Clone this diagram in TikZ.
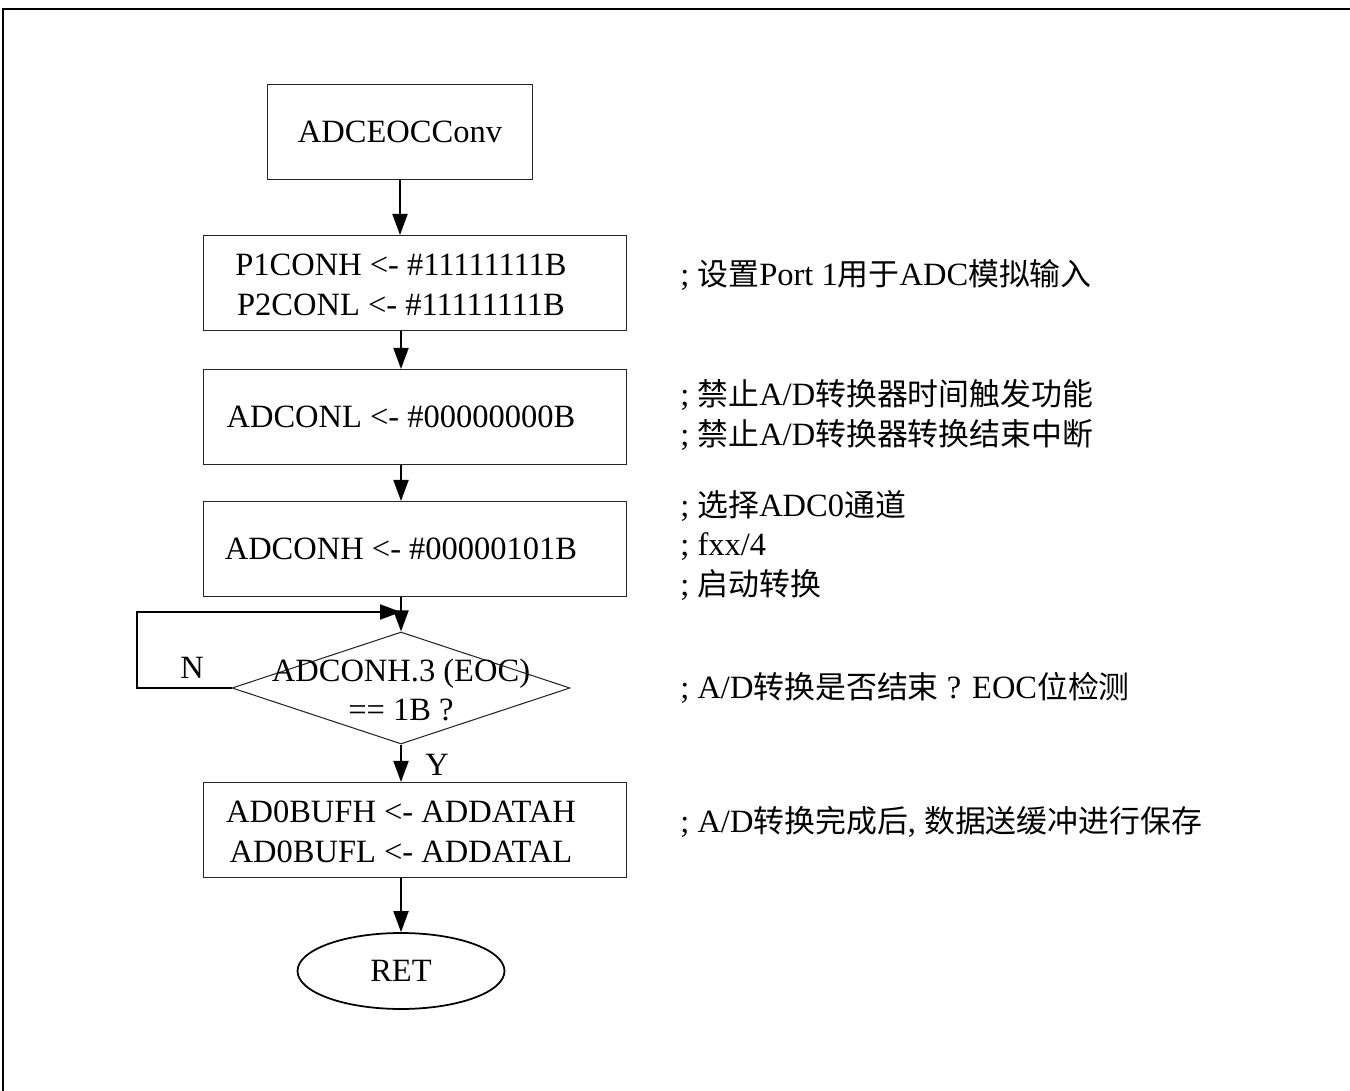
\documentclass[tikz,border=0pt]{standalone}
\usepackage{fontspec}
\setmainfont{Liberation Serif}
\newfontfamily\cjk[Scale=0.95]{Noto Sans CJK SC}
\usetikzlibrary{arrows.meta, positioning, shapes.geometric}
\newcommand{\zh}[1]{{\cjk #1}}

\begin{document}
\begin{tikzpicture}[x=0.02cm, y=-0.02cm, font=\fontsize{18.5}{22.5}\selectfont,
  box/.style={draw=black!85, line width=0.6pt, minimum width=8.48cm, minimum height=1.9cm},
  txt/.style={align=center, inner sep=0pt},
  flow/.style={-{Triangle[length=0.42cm, width=0.3cm]}, line width=1.1pt},
  note/.style={anchor=west, align=left, inner sep=0pt}]

  \useasboundingbox (0,0) rectangle (1350,1091);
  % Rahmen
  \draw[line width=1pt] (3,1091) -- (3,9) -- (1350,9);

  % Start
  \node[box, minimum width=5.3cm] (start) at (400,132) {ADCEOCConv};

  % Port 1
  \node[box] (port) at (415,283) {};
  \node[txt] (porttxt) at (401,285) {P1CONH <- \#11111111B\\P2CONL <- \#11111111B};

  % ADCONL
  \node[box] (conl) at (415,417) {};
  \node[txt] (conltxt) at (401,417) {ADCONL <- \#00000000B};

  % ADCONH
  \node[box] (conh) at (415,549) {};
  \node[txt] (conhtxt) at (401,549) {ADCONH <- \#00000101B};

  % EOC abfragen
  \node[diamond, draw=black!85, line width=0.6pt, minimum width=6.76cm, minimum height=2.24cm, inner sep=0pt] (chk) at (401,688) {};
  \node[txt] (chktxt) at (401,690) {ADCONH.3 (EOC)\\== 1B ?};
  \coordinate (loopin) at (401,612);

  % Puffer
  \node[box] (buf) at (415,830) {};
  \node[txt] (buftxt) at (401,832) {AD0BUFH <- ADDATAH\\AD0BUFL <- ADDATAL};

  % Ende
  \node[ellipse, draw, line width=1pt, minimum width=4.14cm, minimum height=1.52cm] (ret) at (401,971) {RET};

  % Pfeile
  \draw[flow] (start.south) -- (start.south |- port.north);
  \draw[flow] (porttxt |- port.south) -- (porttxt |- conl.north);
  \draw[flow] (conltxt |- conl.south) -- (conltxt |- conh.north);
  \draw[flow] (conhtxt |- conh.south) -- (chk.north);
  \draw[flow] (chk.west) -- (137,688) |- (loopin);
  \draw[flow] (chk.south) -- (chk.south |- buf.north);
  \draw[flow] (ret.north |- buf.south) -- (ret.north);

  \node (no) at (192,668) {N};
  \node (yes) at (437,765) {Y};

  % Kommentare
  \node[note] (c1) at (680,275) {; \zh{设置}Port 1\zh{用于}ADC\zh{模拟输入}};
  \node[note] (c2) at (680,415) {; \zh{禁止}A/D\zh{转换器时间触发功能}\\; \zh{禁止}A/D\zh{转换器转换结束中断}};
  \node[note] (c3) at (680,545) {; \zh{选择}ADC0\zh{通道}\\; fxx/4\\; \zh{启动转换}};
  \node[note] (c4) at (680,688) {; A/D\zh{转换是否结束} ? EOC\zh{位检测}};
  \node[note] (c5) at (680,822) {; A/D\zh{转换完成后}, \zh{数据送缓冲进行保存}};
\end{tikzpicture}
\end{document}
